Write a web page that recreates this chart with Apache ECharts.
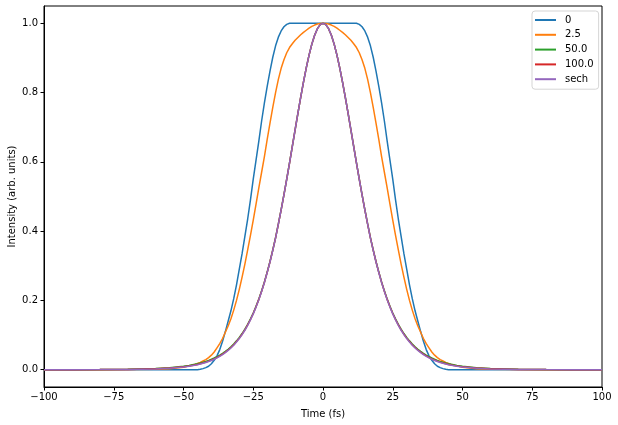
<!DOCTYPE html>
<html>
<head>
<meta charset="utf-8">
<script src="https://cdn.jsdelivr.net/npm/echarts@6/dist/echarts.min.js"></script>
<style>
html,body{margin:0;padding:0;background:#fff;}
#chart{width:618px;height:425px;}
</style>
</head>
<body>
<div id="chart"></div>
<script>
// Time axis samples (fs)
const times = [-100,-90,-80,-70,-60,-55,-50,-48,-46,
-45,-44,-43,-42,-41,-40,-39,-38,-37,-36,-35,-34,-33,-32,-31,-30,-29,-28,-27,-26,-25,-24,-23,-22,-21,-20,-19,-18,-17,-16,-15,-14,-13,-12,-11,-10,-9,-8,-7,-6,-5,-4,-3,-2,-1,
0,
1,2,3,4,5,6,7,8,9,10,11,12,13,14,15,16,17,18,19,20,21,22,23,24,25,26,27,28,29,30,31,32,33,34,35,36,37,38,39,40,41,42,43,44,45,
46,48,50,55,60,70,80,90,100];

const seriesNames = ['0', '2.5', '50.0', '100.0', 'sech'];

const int0 = [0,0,0,0,0,0,0,0,0,
0,0.001,0.003,0.006,0.01,0.017,0.027,0.04,0.058,0.082,0.11,0.14,0.17,0.205,0.245,0.29,0.335,0.385,0.435,0.49,0.55,0.605,0.66,0.718,0.77,0.818,0.862,0.902,0.935,0.96,0.978,0.99,0.997,1,1,1,1,1,1,1,1,1,1,1,1,
1,
1,1,1,1,1,1,1,1,1,1,1,1,0.997,0.99,0.978,0.96,0.935,0.902,0.862,0.818,0.77,0.718,0.66,0.605,0.55,0.49,0.435,0.385,0.335,0.29,0.245,0.205,0.17,0.14,0.11,0.082,0.058,0.04,0.027,0.017,0.01,0.006,0.003,0.001,0,
0,0,0,0,0,0,0,0,0];

const int2p5 = [0,0,0.0001,0.0003,0.0012,0.003,0.007,0.011,0.015,
0.018,0.021,0.025,0.029,0.035,0.042,0.051,0.063,0.075,0.09,0.108,0.126,0.147,0.172,0.2,0.232,0.267,0.305,0.346,0.388,0.432,0.478,0.525,0.57,0.615,0.665,0.712,0.757,0.8,0.838,0.87,0.895,0.915,0.93,0.941,0.951,0.959,0.967,0.974,0.98,0.986,0.991,0.995,0.998,0.9995,
1,
0.9995,0.998,0.995,0.991,0.986,0.98,0.974,0.967,0.959,0.951,0.941,0.93,0.915,0.895,0.87,0.838,0.8,0.757,0.712,0.665,0.615,0.57,0.525,0.478,0.432,0.388,0.346,0.305,0.267,0.232,0.2,0.172,0.147,0.126,0.108,0.09,0.075,0.063,0.051,0.042,0.035,0.029,0.025,0.021,0.018,
0.015,0.011,0.007,0.003,0.0012,0.0003,0.0001,0,0];

const int50 = [0,0.0001,0.0004,0.0011,0.0033,0.0057,0.0098,0.0124,0.0155,
0.0173,0.0193,0.0215,0.024,0.0269,0.0301,0.0336,0.0375,0.042,0.0471,0.0527,0.059,0.0662,0.0742,0.0832,0.0932,0.1043,0.1168,0.1308,0.1465,0.1636,0.1829,0.2041,0.2276,0.2534,0.2818,0.3122,0.3456,0.3815,0.4207,0.4619,0.5051,0.5502,0.5968,0.6445,0.6925,0.7401,0.7864,0.8305,0.8716,0.9083,0.94,0.9657,0.9845,0.9961,
1,
0.9961,0.9845,0.9657,0.94,0.9083,0.8716,0.8305,0.7864,0.7401,0.6925,0.6445,0.5968,0.5502,0.5051,0.4619,0.4207,0.3815,0.3456,0.3122,0.2818,0.2534,0.2276,0.2041,0.1829,0.1636,0.1465,0.1308,0.1168,0.1043,0.0932,0.0832,0.0742,0.0662,0.059,0.0527,0.0471,0.042,0.0375,0.0336,0.0301,0.0269,0.024,0.0215,0.0193,0.0173,
0.0155,0.0124,0.0098,0.0057,0.0033,0.0011,0.0004,0.0001,0];

const int100 = [0,0.0001,0.0002,0.0008,0.0026,0.0047,0.0085,0.0107,0.0136,
0.0152,0.0172,0.0194,0.0219,0.0247,0.0278,0.0313,0.0353,0.0398,0.0449,0.0505,0.0569,0.064,0.0721,0.0811,0.0912,0.1024,0.1151,0.1292,0.1449,0.1622,0.1816,0.203,0.2266,0.2525,0.281,0.3115,0.345,0.3807,0.4203,0.4616,0.5048,0.55,0.5967,0.6444,0.6924,0.7401,0.7864,0.8305,0.8716,0.9083,0.94,0.9657,0.9845,0.9961,
1,
0.9961,0.9845,0.9657,0.94,0.9083,0.8716,0.8305,0.7864,0.7401,0.6924,0.6444,0.5967,0.55,0.5048,0.4616,0.4203,0.3807,0.345,0.3115,0.281,0.2525,0.2266,0.203,0.1816,0.1622,0.1449,0.1292,0.1151,0.1024,0.0912,0.0811,0.0721,0.064,0.0569,0.0505,0.0449,0.0398,0.0353,0.0313,0.0278,0.0247,0.0219,0.0194,0.0172,0.0152,
0.0136,0.0107,0.0085,0.0047,0.0026,0.0008,0.0002,0.0001,0];

const intSech = [0,0.0001,0.0002,0.0006,0.0022,0.0041,0.0077,0.0099,0.0127,
0.0143,0.0163,0.0184,0.0208,0.0236,0.0266,0.0301,0.034,0.0385,0.0435,0.0491,0.0555,0.0626,0.0707,0.0797,0.0898,0.1011,0.1138,0.128,0.1438,0.1612,0.1807,0.2022,0.2259,0.2519,0.2805,0.311,0.3446,0.38,0.42,0.4613,0.5046,0.5498,0.5966,0.6443,0.6924,0.7401,0.7864,0.8305,0.8716,0.9083,0.94,0.9657,0.9845,0.9961,
1,
0.9961,0.9845,0.9657,0.94,0.9083,0.8716,0.8305,0.7864,0.7401,0.6924,0.6443,0.5966,0.5498,0.5046,0.4613,0.42,0.38,0.3446,0.311,0.2805,0.2519,0.2259,0.2022,0.1807,0.1612,0.1438,0.128,0.1138,0.1011,0.0898,0.0797,0.0707,0.0626,0.0555,0.0491,0.0435,0.0385,0.034,0.0301,0.0266,0.0236,0.0208,0.0184,0.0163,0.0143,
0.0127,0.0099,0.0077,0.0041,0.0022,0.0006,0.0002,0.0001,0];

const xTicks = [-100,-75,-50,-25,0,25,50,75,100];
const yTicks = [0,0.2,0.4,0.6,0.8,1.0];

const colors = ['#1f77b4','#ff7f0e','#2ca02c','#d62728','#9467bd'];
const allValues = [int0, int2p5, int50, int100, intSech];

const FONT = 'DejaVu Sans';
const chart = echarts.init(document.getElementById('chart'), null, {renderer:'canvas'});

const fmtMinus = v => (v < 0 ? '\u2212' + Math.abs(v) : String(v));

chart.setOption({
  animation: false,
  backgroundColor: '#fff',
  textStyle: {fontFamily: FONT},
  grid: {left: 44, right: 16, top: 6, bottom: 38, show: true, borderColor: '#000', borderWidth: 1, backgroundColor: 'transparent', containLabel: false, outerBoundsMode: 'none'},
  legend: {
    orient: 'vertical',
    left: 532,
    top: 11,
    padding: [3, 5, 4, 3],
    itemWidth: 21,
    itemHeight: 2,
    itemGap: 2.8,
    icon: 'rect',
    backgroundColor: 'rgba(255,255,255,0.8)',
    borderColor: '#d5d5d5',
    borderWidth: 1,
    borderRadius: 3,
    textStyle: {fontFamily: FONT, fontSize: 10, color: '#000', lineHeight: 12, padding: [0,0,0,4]},
    data: seriesNames
  },
  xAxis: {
    type: 'value', min: -100, max: 100, interval: 25,
    name: 'Time (fs)', nameLocation: 'middle', nameGap: 22, nameMoveOverlap: false,
    nameTextStyle: {fontFamily: FONT, fontSize: 10, color: '#000'},
    axisLine: {show: true, onZero: false, lineStyle: {color: '#000', width: 1}},
    axisTick: {show: true, inside: false, length: 3.5, lineStyle: {color: '#000'}, customValues: xTicks},
    axisLabel: {fontFamily: FONT, fontSize: 10, color: '#000', margin: 5, formatter: fmtMinus, customValues: xTicks},
    splitLine: {show: false}
  },
  yAxis: {
    type: 'value', min: -0.05, max: 1.05,
    name: 'Intensity (arb. units)', nameLocation: 'middle', nameGap: 27, nameMoveOverlap: false,
    nameTextStyle: {fontFamily: FONT, fontSize: 10, color: '#000'},
    axisLine: {show: true, onZero: false, lineStyle: {color: '#000', width: 1}},
    axisTick: {show: true, inside: false, length: 3.5, lineStyle: {color: '#000'}, customValues: yTicks},
    axisLabel: {fontFamily: FONT, fontSize: 10, color: '#000', margin: 6, formatter: v => v.toFixed(1), customValues: yTicks},
    splitLine: {show: false}
  },
  series: seriesNames.map((name, k) => ({
    name: name,
    type: 'line',
    data: times.map((t, i) => [t, allValues[k][i]]),
    showSymbol: false,
    symbol: 'none',
    smooth: false,
    clip: true,
    color: colors[k],
    lineStyle: {color: colors[k], width: 1.5},
    itemStyle: {color: colors[k]},
    z: 2 + k
  }))
});
</script>
</body>
</html>
